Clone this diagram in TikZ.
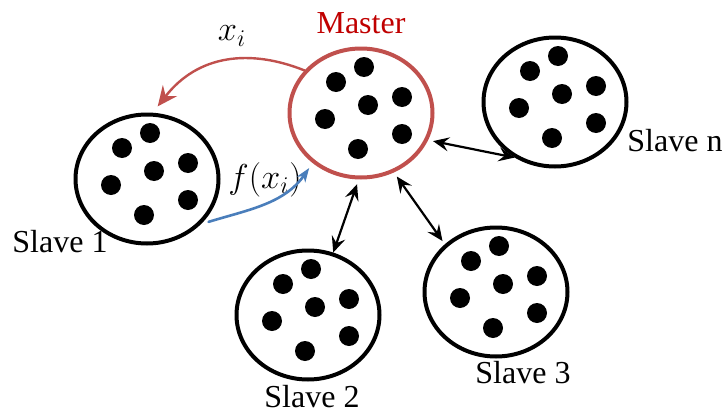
\documentclass[tikz,border=0pt]{standalone}
\usepackage{fontspec}
\setmainfont{Liberation Serif}
\newfontfamily\poolfont{Liberation Serif}
\usetikzlibrary{arrows.meta,shapes.geometric}
\definecolor{masterred}{RGB}{192,80,77}
\definecolor{labelred}{RGB}{192,0,0}
\definecolor{sendblue}{RGB}{74,126,187}
\begin{document}
\begin{tikzpicture}[x=0.5pt, y=0.5pt, line join=round, line cap=round, font=\poolfont\fontsize{16}{18}\selectfont,
		pool/.style={draw, ellipse, line width=2pt, minimum width=71.5pt, minimum height=64.5pt, inner sep=0pt},
		mathlab/.style={font=\fontsize{18}{20}\selectfont},
		link/.style={{Stealth[length=8pt,width=7pt,inset=3pt]}-{Stealth[length=8pt,width=7pt,inset=3pt]}, line width=1.1pt}]
		\useasboundingbox (0,0) rectangle (724,414);
		% Master va cac slave
		\node[pool, draw=masterred] (m) at (361,301) {};
		\node[pool] (s1) at (147,235) {};
		\node[pool] (s2) at (308,99) {};
		\node[pool] (s3) at (496,122) {};
		\node[pool] (sn) at (555,312) {};
		% Cac cham ben trong
		\foreach \s in {m, s1, s2, s3, sn}
		\foreach \dx/\dy in {3/46, -25/31, 41/16, 7/8, -36/-6, 41/-21, -3/-36}
		\fill ([shift={(\dx,\dy)}]\s.center) circle (5pt);
		% Nhan
		\node[text=labelred] (mlab) at (361,391) {Master};
		\foreach \p/\t/\x/\y in {l1/Slave 1/60/172, l2/Slave 2/312/17, l3/Slave 3/523/41, ln/Slave n/675/273}
		\node (\p) at (\x,\y) {\t};
		\node[mathlab] (xlab) at (232,378) {$x_i$};
		\node[mathlab] (flab) at (265,234) {$f(x_i)$};
		% Gui va nhan
		\draw[-{Stealth[length=10pt,width=9pt,inset=3.5pt]}, masterred, line width=1.2pt, shorten >=4pt]
			(m.143) .. controls +(-55,22) and +(45,58) .. (s1.85);
		\draw[-{Stealth[length=7pt,width=5pt,inset=2pt]}, sendblue, line width=1.3pt, shorten <=4pt, shorten >=3pt]
			(s1.-40) to[out=17, in=-125] (m.-134);
		% Lien ket hai chieu
		\draw[link, shorten <=2.5pt] (m.-22) -- (sn.-126);
		\draw[link, shorten <=2.5pt] (m.-92) -- (s2.68);
		\draw[link, shorten <=2.5pt, shorten >=2pt] (m.-61) -- (s3.137);
	\end{tikzpicture}
\end{document}
